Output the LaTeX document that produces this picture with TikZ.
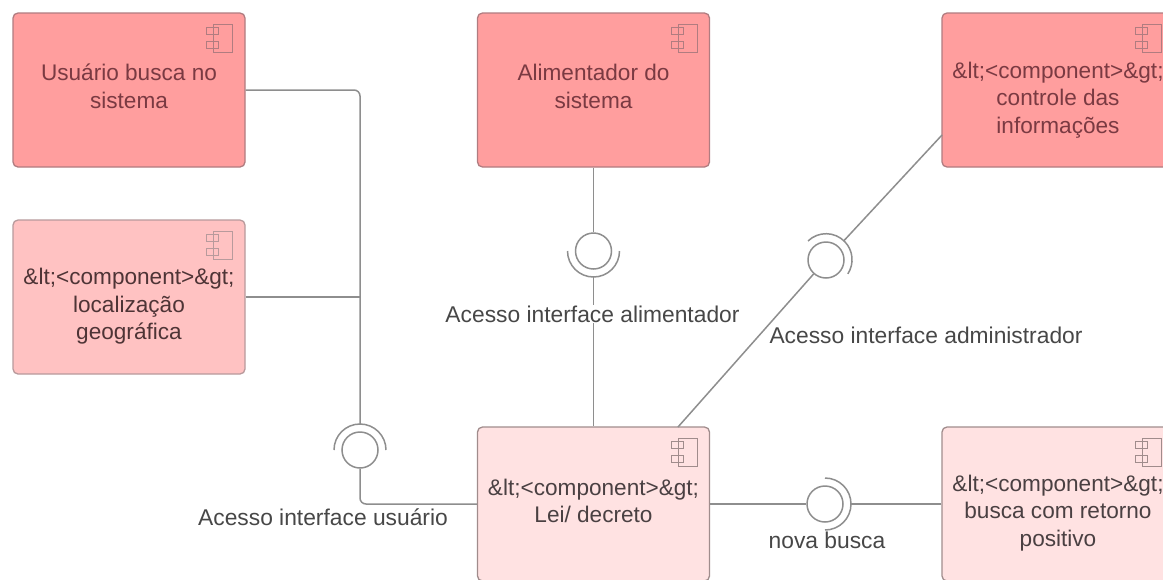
\documentclass[tikz,border=0pt]{standalone}
\usepackage{fontspec}
\setmainfont{Liberation Sans}
\definecolor{lineg}{HTML}{8E8E8E}
\definecolor{fillA}{HTML}{FF9E9E}
\definecolor{fillB}{HTML}{FFC2C2}
\definecolor{fillC}{HTML}{FFE2E2}
\definecolor{edgeA}{HTML}{B07C80}
\definecolor{edgeB}{HTML}{B89A9C}
\definecolor{edgeC}{HTML}{A08C8C}
\definecolor{textA}{HTML}{7A3A42}
\definecolor{textB}{HTML}{4E3436}
\definecolor{textC}{HTML}{4A4042}
\tikzset{
  compbox/.style={draw, rounded corners=5pt, line width=1.3pt, minimum width=232pt, minimum height=154pt, inner sep=0pt},
  boxA/.style={compbox, fill=fillA, draw=edgeA},
  boxB/.style={compbox, fill=fillB, draw=edgeB},
  boxC/.style={compbox, fill=fillC, draw=edgeC},
  boxtext/.style={align=center, font=\fontsize{22.6}{27.5}\selectfont, inner sep=0pt},
  iflabel/.style={font=\fontsize{22.8}{26}\selectfont, text=black!72, inner sep=2pt},
  conn/.style={draw=lineg, line width=1.5pt, rounded corners=6pt},
  ball/.style={circle, draw=lineg, line width=1.5pt, minimum size=36pt, inner sep=0pt},
  sock/.style={circle, minimum size=52pt, inner sep=0pt},
  sockarc/.style={draw=lineg, line width=1.5pt},
  iconline/.style={line width=1.2pt, fill=none}
}
\newcommand{\compicon}[2]{%
  \begin{scope}[shift={($(#1.north east)+(-32,12)$)}, iconline, draw=#2]
    \draw (0,0) rectangle (19,28);
    \draw (-7,3) rectangle (5,10);
    \draw (-7,17) rectangle (5,24);
  \end{scope}}
\usetikzlibrary{calc}
\begin{document}
\begin{tikzpicture}[x=1pt,y=-1pt]
\clip (0,0) rectangle (1163,579);
\fill[white] (0,0) rectangle (1163,579);

\node[boxA] (b1) at (129,90) {};
\node[boxB] (b2) at (129,297) {};
\node[boxA] (b3) at (593.5,90) {};
\node[boxA] (b4) at (1058,90) {};
\node[boxC] (b5) at (593.5,504) {};
\node[boxC] (b6) at (1058,504) {};

\compicon{b1}{edgeA}
\compicon{b2}{edgeB}
\compicon{b3}{edgeA}
\compicon{b4}{edgeA}
\compicon{b5}{edgeC}
\compicon{b6}{edgeC}

\node[boxtext, text=textA] (t1) at (129,86.5) {Usuário busca no\\sistema};
\node[boxtext, text=textB] (t2) at (129,306.5) {\&lt;<component>\&gt;\\localização\\geográfica};
\node[boxtext, text=textA] (t3) at (593.5,86.5) {Alimentador do\\sistema};
\node[boxtext, text=textA] (t4) at (1058,100) {\&lt;<component>\&gt;\\controle das\\informações};
\node[boxtext, text=textC] (t5) at (593.5,501) {\&lt;<component>\&gt;\\Lei/ decreto};
\node[boxtext, text=textC] (t6) at (1058,513) {\&lt;<component>\&gt;\\busca com retorno\\positivo};

% provided interfaces
\node[ball] (c1) at (360,450) {};
\node[sock] (s1) at (360,450) {};
\node[ball] (c2) at (593.5,251) {};
\node[sock] (s2) at (593.5,251) {};
\node[ball] (c3) at (826,260) {};
\node[sock] (s3) at (826,260) {};
\node[ball] (c4) at (825,504) {};
\node[sock] (s4) at (825,504) {};

% sockets
\draw[sockarc] ($(s1.center)+(-26,0)$) arc[start angle=180, end angle=0, radius=26pt];
\draw[sockarc] ($(s2.center)+(-26,0)$) arc[start angle=180, end angle=360, radius=26pt];
\draw[sockarc] ($(s3.center)+(-18,-19)$) arc[start angle=134, end angle=-33, radius=26pt];
\draw[sockarc] ($(s4.center)+(0,-26)$) arc[start angle=90, end angle=-90, radius=26pt];

\coordinate (d1) at (678,427);
\coordinate (d2) at (942,135);
\coordinate (j1) at (360,297);

\draw[conn] (b1.east) -| (s1.north);
\draw[conn] (b2.east) -- (j1);
\draw[conn] (c1.south) |- (b5.west);
\draw[conn] (b3.south) -- (c2.north);
\draw[conn] (s2.south) -- (b5.north);
\draw[conn] (d1) -- (c3);
\draw[conn] (d2) -- (s3);
\draw[conn] (b5.east) -- (c4.west);
\draw[conn] (b6.west) -- (s4.east);

\node[iflabel, fill=white, inner xsep=1pt, inner ysep=1pt] (l2) at (592.5,314) {Acesso interface alimentador};
\node[iflabel] (l1) at (323,517) {Acesso interface usuário};
\node[iflabel] (l3) at (926,335) {Acesso interface administrador};
\node[iflabel] (l4) at (827,540) {nova busca};
\end{tikzpicture}
\end{document}
